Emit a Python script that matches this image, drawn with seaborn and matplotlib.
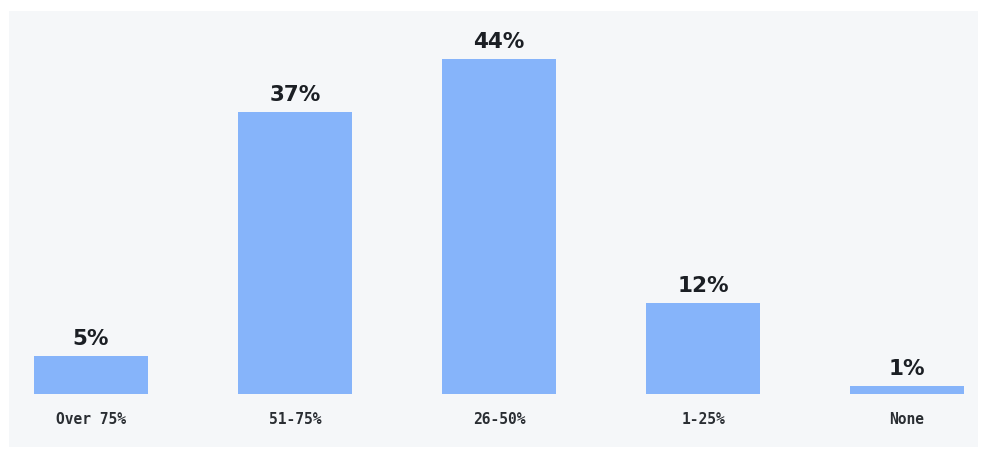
import matplotlib
matplotlib.use("Agg")
import matplotlib.pyplot as plt
import seaborn as sns
import pandas as pd

categories = ["Over 75%", "51-75%", "26-50%", "1-25%", "None"]
values = [5, 37, 44, 12, 1]
value_labels = ["5%", "37%", "44%", "12%", "1%"]

sns.set_theme(style="white")
plt.rcParams['font.family'] = ['DejaVu Sans']

W, H = 990, 465
fig = plt.figure(figsize=(W / 100, H / 100), dpi=100)
fig.patch.set_facecolor("white")

# panel background
bg = fig.add_axes([9 / W, (H - 447) / H, (978 - 9) / W, (447 - 11) / H], zorder=0)
bg.set_facecolor("#f5f7f9")
bg.set_xticks([])
bg.set_yticks([])
for s in bg.spines.values():
    s.set_visible(False)

ax = fig.add_axes([9 / W, (H - 394) / H, (978 - 9) / W, (394 - 11) / H], zorder=1)
ax.set_facecolor("none")

df = pd.DataFrame({"cat": categories, "val": values})
sns.barplot(data=df, x="cat", y="val", color="#86b4fa", saturation=1,
            width=0.56, linewidth=0, edgecolor="none", ax=ax)

ax.set_xlim(-0.402, 4.348)
ax.set_ylim(0, 50.3)

ax.bar_label(ax.containers[0], labels=value_labels, padding=5,
             fontsize=15.5, fontweight="semibold", color="#1b1f24",
             family="DejaVu Sans")

ax.set_xlabel("")
ax.set_ylabel("")
ax.set_yticks([])
ax.tick_params(axis="x", length=0, pad=13)
for lbl in ax.get_xticklabels():
    lbl.set_fontfamily("DejaVu Sans Mono")
    lbl.set_fontsize(10.5)
    lbl.set_fontweight("bold")
    lbl.set_color("#2a2e33")
for s in ax.spines.values():
    s.set_visible(False)

fig.savefig("out.png", dpi=100, facecolor=fig.get_facecolor())
